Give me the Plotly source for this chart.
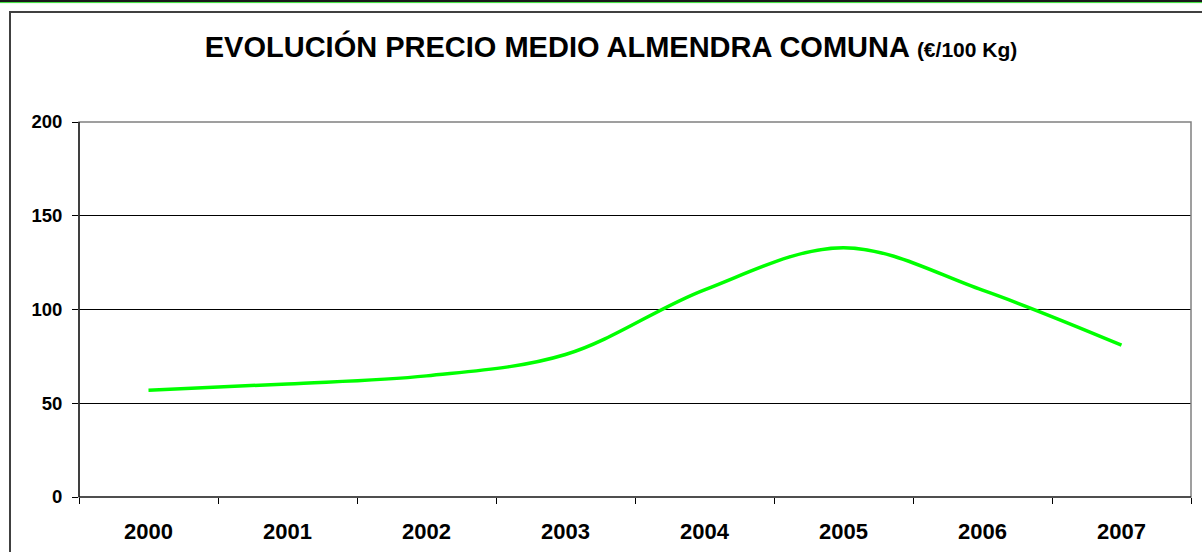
import plotly.graph_objects as go

years = ["2000", "2001", "2002", "2003", "2004", "2005", "2006", "2007"]
precio = [57, 60.3, 64.6, 76, 110.5, 133, 110.3, 81]
y_ticks = [0, 50, 100, 150, 200]

W, H = 1202, 552
L, R, T, B = 79, 1191, 122, 497  # plot area pixels

def px_x(p):
    return (p - L) / (R - L)

def px_y(p):
    return (B - p) / (B - T)

FONT = "Liberation Sans, Arial, sans-serif"

fig = go.Figure()
fig.add_trace(go.Scatter(
    x=years, y=precio, mode="lines",
    line=dict(color="#00FF00", width=3.5, shape="spline", smoothing=1.0),
    hoverinfo="x+y", showlegend=False,
))

shapes = [
    # outer chart frame
    dict(type="rect", xref="paper", yref="paper",
         x0=px_x(10), x1=px_x(1215), y0=px_y(12), y1=px_y(565),
         line=dict(color="#404040", width=2), fillcolor="rgba(0,0,0,0)", layer="above"),
    # top page lines
    dict(type="line", xref="paper", yref="paper",
         x0=px_x(-5), x1=px_x(1210), y0=px_y(1), y1=px_y(1),
         line=dict(color="#1a1a1a", width=2), layer="above"),
    dict(type="line", xref="paper", yref="paper",
         x0=px_x(-5), x1=px_x(1210), y0=px_y(2.6), y1=px_y(2.6),
         line=dict(color="#33dd33", width=1), layer="above"),
    # plot area border (gray)
    dict(type="rect", xref="paper", yref="paper", x0=0, x1=1, y0=0, y1=1,
         line=dict(color="#808080", width=1.5), fillcolor="rgba(0,0,0,0)", layer="above"),
    # black left and bottom axis lines
    dict(type="line", xref="paper", yref="paper", x0=0, x1=0, y0=0, y1=1,
         line=dict(color="black", width=1.2), layer="above"),
    dict(type="line", xref="paper", yref="paper", x0=0, x1=1, y0=0, y1=0,
         line=dict(color="black", width=1.2), layer="above"),
]

fig.update_layout(
    width=W, height=H, autosize=False,
    margin=dict(l=L, r=W - R, t=T, b=H - B, autoexpand=False),
    paper_bgcolor="white", plot_bgcolor="white",
    title=dict(
        text="<b>EVOLUCIÓN PRECIO MEDIO ALMENDRA COMUNA <span style='font-size:21px'>(€/100 Kg)</span></b>",
        x=611 / W, xanchor="center", xref="container",
        y=1 - 47 / H, yanchor="middle", yref="container",
        font=dict(family=FONT, size=29, color="black"),
    ),
    xaxis=dict(
        type="category", range=[-0.5, 7.5], automargin=False,
        tickson="boundaries", ticks="outside", ticklen=6, tickcolor="black",
        showgrid=False, showline=False, zeroline=False,
        tickfont=dict(family=FONT, size=22, color="black", weight="bold"),
        ticklabelstandoff=19,
    ),
    yaxis=dict(
        range=[0, 200], tickvals=y_ticks, automargin=False,
        ticks="outside", ticklen=6, tickcolor="black",
        showgrid=True, gridcolor="black", gridwidth=1,
        showline=False, zeroline=False,
        tickfont=dict(family=FONT, size=18.5, color="black", weight="bold"),
        ticklabelstandoff=6,
    ),
    shapes=shapes,
)

fig.write_html(
    "out.html",
    config={"displayModeBar": False},
    post_script="document.body.style.margin='0';document.body.style.overflow='hidden';",
)
